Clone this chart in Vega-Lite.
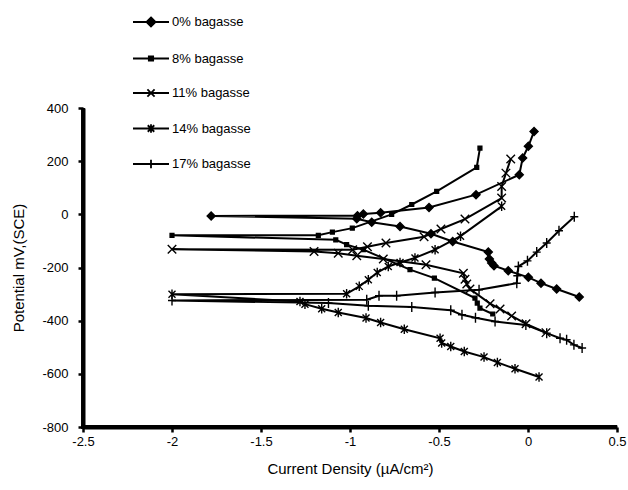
{
  "$schema": "https://vega.github.io/schema/vega-lite/v6.json",
  "width": 534,
  "height": 319,
  "autosize": {"type": "none"},
  "padding": {"left": 83, "top": 108, "right": 11, "bottom": 63},
  "background": "white",
  "config": {
    "view": {"stroke": null},
    "font": "Liberation Sans",
    "axis": {"domainColor": "black", "domainWidth": 4, "tickColor": "black", "tickWidth": 2.5, "tickSize": 5}
  },
  "data": {
    "values": [
      {"s": "0% bagasse", "x": 0.288, "y": -311},
      {"s": "0% bagasse", "x": 0.161, "y": -281},
      {"s": "0% bagasse", "x": 0.073, "y": -259},
      {"s": "0% bagasse", "x": 0.002, "y": -237},
      {"s": "0% bagasse", "x": -0.111, "y": -212},
      {"s": "0% bagasse", "x": -0.191, "y": -193},
      {"s": "0% bagasse", "x": -0.204, "y": -183},
      {"s": "0% bagasse", "x": -0.217, "y": -168},
      {"s": "0% bagasse", "x": -0.223, "y": -142},
      {"s": "0% bagasse", "x": -0.423, "y": -102},
      {"s": "0% bagasse", "x": -0.545, "y": -73},
      {"s": "0% bagasse", "x": -0.719, "y": -46},
      {"s": "0% bagasse", "x": -0.878, "y": -30},
      {"s": "0% bagasse", "x": -0.962, "y": -17},
      {"s": "0% bagasse", "x": -1.78, "y": -6},
      {"s": "0% bagasse", "x": -0.958, "y": -5},
      {"s": "0% bagasse", "x": -0.925, "y": 1},
      {"s": "0% bagasse", "x": -0.828, "y": 6},
      {"s": "0% bagasse", "x": -0.556, "y": 26},
      {"s": "0% bagasse", "x": -0.292, "y": 74},
      {"s": "0% bagasse", "x": -0.049, "y": 149},
      {"s": "0% bagasse", "x": -0.03, "y": 212},
      {"s": "0% bagasse", "x": 0.002, "y": 256},
      {"s": "0% bagasse", "x": 0.034, "y": 312},

      {"s": "8% bagasse", "x": -0.198, "y": -375},
      {"s": "8% bagasse", "x": -0.27, "y": -353},
      {"s": "8% bagasse", "x": -0.285, "y": -334},
      {"s": "8% bagasse", "x": -0.298, "y": -315},
      {"s": "8% bagasse", "x": -0.526, "y": -240},
      {"s": "8% bagasse", "x": -0.663, "y": -208},
      {"s": "8% bagasse", "x": -0.925, "y": -133},
      {"s": "8% bagasse", "x": -1.019, "y": -114},
      {"s": "8% bagasse", "x": -1.08, "y": -96},
      {"s": "8% bagasse", "x": -2.0, "y": -79},
      {"s": "8% bagasse", "x": -1.178, "y": -79},
      {"s": "8% bagasse", "x": -1.099, "y": -67},
      {"s": "8% bagasse", "x": -0.987, "y": -52},
      {"s": "8% bagasse", "x": -0.766, "y": 0},
      {"s": "8% bagasse", "x": -0.653, "y": 37},
      {"s": "8% bagasse", "x": -0.513, "y": 86},
      {"s": "8% bagasse", "x": -0.288, "y": 177},
      {"s": "8% bagasse", "x": -0.27, "y": 249},

      {"s": "11% bagasse", "x": 0.101, "y": -445},
      {"s": "11% bagasse", "x": -0.011, "y": -412},
      {"s": "11% bagasse", "x": -0.092, "y": -382},
      {"s": "11% bagasse", "x": -0.157, "y": -356},
      {"s": "11% bagasse", "x": -0.213, "y": -336},
      {"s": "11% bagasse", "x": -0.326, "y": -281},
      {"s": "11% bagasse", "x": -0.344, "y": -262},
      {"s": "11% bagasse", "x": -0.354, "y": -244},
      {"s": "11% bagasse", "x": -0.363, "y": -222},
      {"s": "11% bagasse", "x": -0.573, "y": -190},
      {"s": "11% bagasse", "x": -0.813, "y": -168},
      {"s": "11% bagasse", "x": -0.962, "y": -156},
      {"s": "11% bagasse", "x": -1.066, "y": -146},
      {"s": "11% bagasse", "x": -1.202, "y": -140},
      {"s": "11% bagasse", "x": -2.0, "y": -131},
      {"s": "11% bagasse", "x": -0.985, "y": -133},
      {"s": "11% bagasse", "x": -0.902, "y": -122},
      {"s": "11% bagasse", "x": -0.798, "y": -108},
      {"s": "11% bagasse", "x": -0.584, "y": -84},
      {"s": "11% bagasse", "x": -0.489, "y": -55},
      {"s": "11% bagasse", "x": -0.354, "y": -18},
      {"s": "11% bagasse", "x": -0.148, "y": 61},
      {"s": "11% bagasse", "x": -0.148, "y": 105},
      {"s": "11% bagasse", "x": -0.124, "y": 155},
      {"s": "11% bagasse", "x": -0.097, "y": 208},

      {"s": "14% bagasse", "x": 0.062, "y": -612},
      {"s": "14% bagasse", "x": -0.073, "y": -581},
      {"s": "14% bagasse", "x": -0.172, "y": -557},
      {"s": "14% bagasse", "x": -0.247, "y": -537},
      {"s": "14% bagasse", "x": -0.358, "y": -516},
      {"s": "14% bagasse", "x": -0.434, "y": -497},
      {"s": "14% bagasse", "x": -0.485, "y": -484},
      {"s": "14% bagasse", "x": -0.494, "y": -466},
      {"s": "14% bagasse", "x": -0.695, "y": -432},
      {"s": "14% bagasse", "x": -0.828, "y": -407},
      {"s": "14% bagasse", "x": -0.91, "y": -390},
      {"s": "14% bagasse", "x": -1.066, "y": -369},
      {"s": "14% bagasse", "x": -1.159, "y": -355},
      {"s": "14% bagasse", "x": -1.253, "y": -338},
      {"s": "14% bagasse", "x": -1.281, "y": -328},
      {"s": "14% bagasse", "x": -2.0, "y": -301},
      {"s": "14% bagasse", "x": -1.019, "y": -299},
      {"s": "14% bagasse", "x": -0.948, "y": -271},
      {"s": "14% bagasse", "x": -0.897, "y": -246},
      {"s": "14% bagasse", "x": -0.847, "y": -219},
      {"s": "14% bagasse", "x": -0.785, "y": -196},
      {"s": "14% bagasse", "x": -0.719, "y": -181},
      {"s": "14% bagasse", "x": -0.635, "y": -164},
      {"s": "14% bagasse", "x": -0.522, "y": -133},
      {"s": "14% bagasse", "x": -0.379, "y": -82},
      {"s": "14% bagasse", "x": -0.148, "y": 30},

      {"s": "17% bagasse", "x": 0.304, "y": -503},
      {"s": "17% bagasse", "x": 0.258, "y": -491},
      {"s": "17% bagasse", "x": 0.217, "y": -472},
      {"s": "17% bagasse", "x": 0.18, "y": -466},
      {"s": "17% bagasse", "x": 0.105, "y": -447},
      {"s": "17% bagasse", "x": -0.012, "y": -416},
      {"s": "17% bagasse", "x": -0.185, "y": -403},
      {"s": "17% bagasse", "x": -0.295, "y": -389},
      {"s": "17% bagasse", "x": -0.371, "y": -378},
      {"s": "17% bagasse", "x": -0.434, "y": -361},
      {"s": "17% bagasse", "x": -0.653, "y": -349},
      {"s": "17% bagasse", "x": -0.897, "y": -344},
      {"s": "17% bagasse", "x": -1.121, "y": -334},
      {"s": "17% bagasse", "x": -2.0, "y": -324},
      {"s": "17% bagasse", "x": -0.906, "y": -321},
      {"s": "17% bagasse", "x": -0.837, "y": -306},
      {"s": "17% bagasse", "x": -0.738, "y": -306},
      {"s": "17% bagasse", "x": -0.522, "y": -294},
      {"s": "17% bagasse", "x": -0.275, "y": -284},
      {"s": "17% bagasse", "x": -0.063, "y": -259},
      {"s": "17% bagasse", "x": -0.06, "y": -231},
      {"s": "17% bagasse", "x": -0.054, "y": -196},
      {"s": "17% bagasse", "x": -0.003, "y": -175},
      {"s": "17% bagasse", "x": 0.049, "y": -142},
      {"s": "17% bagasse", "x": 0.105, "y": -108},
      {"s": "17% bagasse", "x": 0.174, "y": -62},
      {"s": "17% bagasse", "x": 0.26, "y": -9}
    ]
  },
  "encoding": {
    "x": {
      "field": "x",
      "type": "quantitative",
      "scale": {"domain": [-2.5, 0.5], "nice": false, "zero": false},
      "axis": {
        "values": [-2.5, -2, -1.5, -1, -0.5, 0, 0.5],
        "labelExpr": "'' + datum.value",
        "grid": false,
        "domainColor": "#000000",
        "domainWidth": 4,
        "tickColor": "#000000",
        "tickWidth": 2.5,
        "tickSize": 5,
        "labelFont": "Liberation Sans",
        "labelFontSize": 13,
        "labelColor": "black",
        "labelPadding": 3,
        "labelFlush": false,
        "labelOverlap": false,
        "title": "Current Density (µA/cm²)",
        "titleFont": "Liberation Sans",
        "titleFontSize": 15,
        "titleFontWeight": "normal",
        "titleColor": "black",
        "titlePadding": 13
      }
    },
    "y": {
      "field": "y",
      "type": "quantitative",
      "scale": {"domain": [-800, 400], "nice": false, "zero": false},
      "axis": {
        "values": [-800, -600, -400, -200, 0, 200, 400],
        "labelExpr": "'' + datum.value",
        "grid": false,
        "domainColor": "#000000",
        "domainWidth": 4,
        "tickColor": "#000000",
        "tickWidth": 2.5,
        "tickSize": 5,
        "labelFont": "Liberation Sans",
        "labelFontSize": 13,
        "labelColor": "black",
        "labelPadding": 10,
        "labelFlush": false,
        "labelOverlap": false,
        "title": "Potential mV,(SCE)",
        "titleFont": "Liberation Sans",
        "titleFontSize": 15,
        "titleFontWeight": "normal",
        "titleColor": "black",
        "titlePadding": 15
      }
    }
  },
  "layer": [
    {
      "data": {"values": [
        {"x": -2.511, "x2": -2.489, "y": -807.5, "y2": 400},
        {"x": -2.511, "x2": 0.5, "y": -807.5, "y2": -792.5}
      ]},
      "mark": {"type": "rect", "color": "black", "opacity": 1},
      "encoding": {
        "x2": {"field": "x2"},
        "y2": {"field": "y2"}
      }
    },
    {
      "mark": {"type": "line", "color": "black", "strokeWidth": 2},
      "encoding": {
        "detail": {"field": "s", "type": "nominal"},
        "order": {"value": null}
      }
    },
    {
      "mark": {"type": "point", "filled": true, "fill": "black", "stroke": "black", "strokeWidth": 1.4, "opacity": 1, "size": 100},
      "encoding": {
        "shape": {
          "field": "s",
          "type": "nominal",
          "scale": {
            "domain": ["0% bagasse", "8% bagasse", "11% bagasse", "14% bagasse", "17% bagasse"],
            "range": [
              "M0,-0.8L0.8,0L0,0.8L-0.8,0Z",
              "M-0.38,-0.38L0.38,-0.38L0.38,0.38L-0.38,0.38Z",
              "M-0.85,-0.85L0.85,0.85M-0.85,0.85L0.85,-0.85",
              "M-0.7,-0.7L0.7,0.7M-0.7,0.7L0.7,-0.7M0,-0.95L0,0.95",
              "M0,-1L0,1M-0.8,0L0.8,0"
            ]
          },
          "legend": null
        }
      }
    },
    {
      "transform": [{"filter": "false"}],
      "mark": {"type": "point", "filled": false, "color": "black", "strokeWidth": 1.8, "opacity": 1},
      "encoding": {
        "shape": {
          "field": "s",
          "type": "nominal",
          "scale": {
            "domain": ["0% bagasse", "8% bagasse", "11% bagasse", "14% bagasse", "17% bagasse"],
            "range": [
              "M-1,0L1,0M0,-0.25L0.25,0L0,0.25L-0.25,0ZM0,-0.16L0.16,0L0,0.16L-0.16,0ZM0,-0.07L0.07,0L0,0.07L-0.07,0Z",
              "M-1,0L1,0M-0.12,-0.12L0.12,-0.12L0.12,0.12L-0.12,0.12ZM-0.04,-0.04L0.04,-0.04L0.04,0.04L-0.04,0.04Z",
              "M-1,0L1,0M-0.2,-0.2L0.2,0.2M-0.2,0.2L0.2,-0.2",
              "M-1,0L1,0M-0.18,-0.18L0.18,0.18M-0.18,0.18L0.18,-0.18M0,-0.24L0,0.24",
              "M-1,0L1,0M0,-0.24L0,0.24"
            ]
          },
          "legend": {
            "orient": "none",
            "legendX": 49,
            "legendY": -105,
            "title": null,
            "padding": 0,
            "rowPadding": 8.5,
            "symbolSize": 1296,
            "symbolStrokeWidth": 1.8,
            "symbolStrokeColor": "black",
            "labelFont": "Liberation Sans",
            "labelFontSize": 13,
            "labelColor": "black",
            "labelOffset": 2,
            "labelLimit": 200
          }
        }
      }
    }
  ],
  "resolve": {"scale": {"shape": "independent"}, "legend": {"shape": "independent"}}
}
